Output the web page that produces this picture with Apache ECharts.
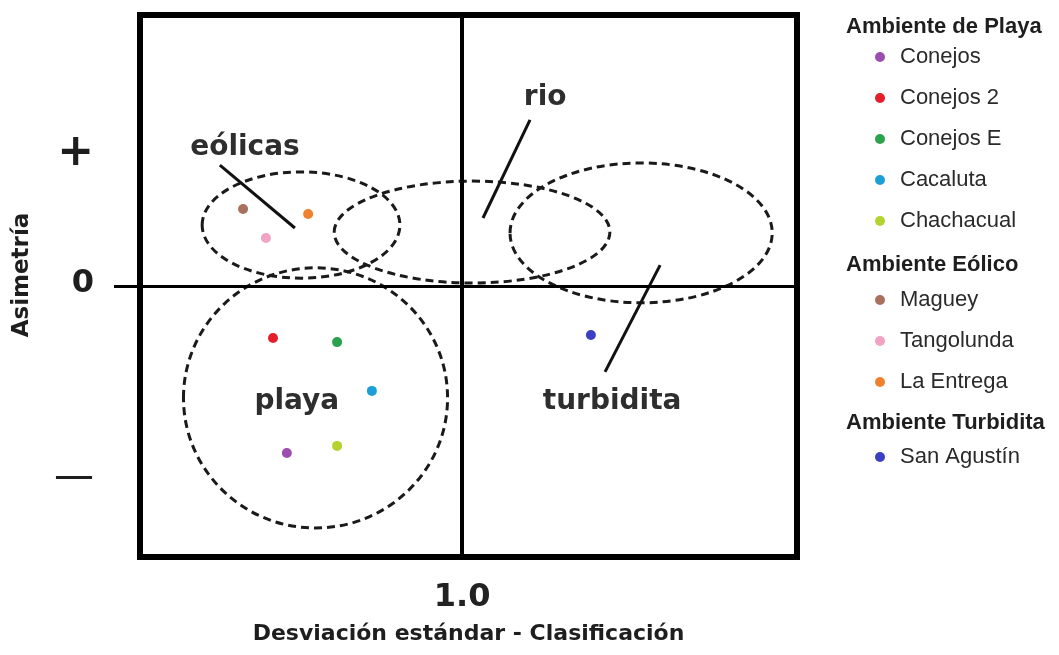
<!DOCTYPE html>
<html>
<head>
<meta charset="utf-8">
<title>Asimetría vs Desviación estándar</title>
<script src="https://cdn.jsdelivr.net/npm/echarts@6.0.0/dist/echarts.min.js"></script>
<style>
    html, body { margin: 0; padding: 0; background: #fff; }
    #chart { width: 1059px; height: 655px; }
</style>
</head>
<body>
<div id="chart"></div>
<script>
// Samples (one point each)
const sampleNames = ['Conejos', 'Conejos 2', 'Conejos E', 'Cacaluta', 'Chachacual', 'Maguey', 'Tangolunda', 'La Entrega', 'San Agustín'];
const sampleColors = ['#9c4db0', '#e41f2b', '#2ba24c', '#1b9fd6', '#b3d42f', '#a8705e', '#f2a3c4', '#f07f2e', '#3b3fc2'];
const sampleX = [0.456, 0.413, 0.612, 0.720, 0.612, 0.320, 0.391, 0.522, 1.400];
const sampleY = [-0.616, -0.192, -0.207, -0.387, -0.590, 0.284, 0.177, 0.266, -0.181];

// Legend groups
const groupTitles = ['Ambiente de Playa', 'Ambiente Eólico', 'Ambiente Turbidita'];
const groupMembers = [
    ['Conejos', 'Conejos 2', 'Conejos E', 'Cacaluta', 'Chachacual'],
    ['Maguey', 'Tangolunda', 'La Entrega'],
    ['San Agustín']
];

// Environment zones (dashed ellipses, data units)
const zoneNames = ['eólicas', 'rio', 'turbidita', 'playa'];
const zoneCenterX = [0.500, 1.031, 1.556, 0.545];
const zoneCenterY = [0.225, 0.199, 0.196, -0.413];
const zoneRadiusX = [0.307, 0.428, 0.407, 0.410];
const zoneRadiusY = [0.196, 0.188, 0.258, 0.480];

// Zone labels and leader lines
const labelX = [0.326, 1.258, 1.466, 0.487];
const labelY = [0.509, 0.694, -0.428, -0.428];
const leaderFromX = [0.248, 1.211, 1.615];
const leaderFromY = [0.446, 0.613, 0.077];
const leaderToX = [0.481, 1.065, 1.444];
const leaderToY = [0.214, 0.251, -0.317];

// Axis ticks
const xTickValues = [1.0];
const yTickValues = [0.5, 0, -0.71];
const yTickLabels = ['+', '0', '—'];

document.addEventListener('DOMContentLoaded', function() {
    initializeChart();
});

function initializeChart() {
    const chart = echarts.init(document.getElementById('chart'));

    const scatterSeries = sampleNames.map((name, i) => ({
        name: name,
        type: 'scatter',
        symbol: 'circle',
        symbolSize: 10,
        z: 5,
        itemStyle: { color: sampleColors[i], opacity: 1 },
        data: [[sampleX[i], sampleY[i]]]
    }));

    // Quadrant lines through (1.0, 0)
    scatterSeries[0].markLine = {
        silent: true,
        symbol: 'none',
        label: { show: false },
        data: [
            { yAxis: 0, lineStyle: { color: '#000', width: 3, type: 'solid' } },
            { xAxis: 1, lineStyle: { color: '#000', width: 4, type: 'solid' } }
        ]
    };

    const zoneSeries = {
        type: 'custom',
        name: 'zonas',
        silent: true,
        z: 3,
        encode: { x: 0, y: 1 },
        data: zoneNames.map((n, i) => [zoneCenterX[i], zoneCenterY[i], zoneRadiusX[i], zoneRadiusY[i]]),
        renderItem: function(params, api) {
            const c = api.coord([api.value(0), api.value(1)]);
            const s = api.size([api.value(2), api.value(3)]);
            return {
                type: 'ellipse',
                shape: { cx: c[0], cy: c[1], rx: s[0], ry: s[1] },
                style: { fill: null, stroke: '#1a1a1a', lineWidth: 3, lineDash: [8, 5] }
            };
        }
    };

    const leaderSeries = {
        type: 'custom',
        name: 'guias',
        silent: true,
        z: 4,
        encode: { x: [0, 2], y: [1, 3] },
        data: leaderFromX.map((x, i) => [x, leaderFromY[i], leaderToX[i], leaderToY[i]]),
        renderItem: function(params, api) {
            const p1 = api.coord([api.value(0), api.value(1)]);
            const p2 = api.coord([api.value(2), api.value(3)]);
            return {
                type: 'line',
                shape: { x1: p1[0], y1: p1[1], x2: p2[0], y2: p2[1] },
                style: { stroke: '#111', lineWidth: 3 }
            };
        }
    };

    const labelSeries = {
        type: 'custom',
        name: 'etiquetas',
        silent: true,
        z: 6,
        encode: { x: 0, y: 1 },
        data: labelX.map((x, i) => [x, labelY[i]]),
        renderItem: function(params, api) {
            const c = api.coord([api.value(0), api.value(1)]);
            return {
                type: 'text',
                x: c[0],
                y: c[1],
                style: {
                    text: zoneNames[params.dataIndex],
                    fill: '#2e2e2e',
                    font: 'bold 28px "DejaVu Sans"',
                    align: 'center',
                    verticalAlign: 'middle'
                }
            };
        }
    };

    const groupTops = [16, 254, 412];
    const legendTops = [46, 289, 446];

    const option = {
        backgroundColor: '#fff',
        animation: false,
        title: groupTitles.map((t, i) => ({
            text: t,
            left: 846,
            top: groupTops[i],
            padding: 0,
            textStyle: {
                fontFamily: 'Liberation Sans',
                fontSize: 22,
                fontWeight: 'bold',
                color: '#1e1e1e'
            }
        })),
        legend: groupMembers.map((members, i) => ({
            data: members,
            orient: 'vertical',
            left: 875,
            top: legendTops[i],
            padding: 0,
            icon: 'circle',
            itemWidth: 30,
            itemHeight: 10,
            itemGap: 19,
            selectedMode: false,
            itemStyle: { opacity: 1 },
            textStyle: {
                fontFamily: 'Liberation Sans',
                fontSize: 22,
                color: '#2a2a2a'
            }
        })),
        grid: {
            left: 140,
            top: 15,
            width: 657,
            height: 542,
            containLabel: false,
            show: true,
            borderColor: '#000',
            borderWidth: 6,
            backgroundColor: 'transparent'
        },
        xAxis: {
            type: 'value',
            min: 0,
            max: 2.04,
            name: 'Desviación estándar - Clasificación',
            nameLocation: 'middle',
            nameGap: 66,
            nameMoveOverlap: false,
            nameTextStyle: {
                fontFamily: 'DejaVu Sans',
                fontSize: 22,
                fontWeight: 'bold',
                color: '#1e1e1e'
            },
            axisLine: { show: false },
            axisTick: { show: false },
            splitLine: { show: false },
            axisLabel: {
                customValues: xTickValues,
                formatter: v => v.toFixed(1),
                margin: 25,
                fontFamily: 'DejaVu Sans',
                fontSize: 32,
                fontWeight: 'bold',
                color: '#222'
            }
        },
        yAxis: {
            type: 'value',
            min: -1,
            max: 1,
            name: 'Asimetría',
            nameLocation: 'middle',
            nameGap: 106,
            nameMoveOverlap: false,
            nameTextStyle: {
                fontFamily: 'DejaVu Sans',
                fontSize: 23,
                fontWeight: 'bold',
                color: '#1e1e1e',
                padding: [0, 0, 0, 22]
            },
            axisLine: { show: false },
            splitLine: { show: false },
            axisTick: {
                show: true,
                customValues: [0],
                length: 26,
                lineStyle: { color: '#000', width: 3 }
            },
            axisLabel: {
                customValues: yTickValues,
                margin: 46,
                formatter: function(v) {
                    const idx = yTickValues.indexOf(v);
                    const key = ['p', 'z', 'm'][idx];
                    return '{' + key + '|' + yTickLabels[idx] + '}';
                },
                rich: {
                    p: { fontFamily: 'DejaVu Sans', fontSize: 44, fontWeight: 'bold', color: '#1e1e1e', padding: [6, 0, 0, 0] },
                    z: { fontFamily: 'DejaVu Sans', fontSize: 32, fontWeight: 'bold', color: '#1e1e1e', padding: [0, 0, 4, 0] },
                    m: { fontFamily: 'DejaVu Sans', fontSize: 40, color: '#1e1e1e' }
                }
            }
        },
        series: [zoneSeries, leaderSeries, labelSeries].concat(scatterSeries)
    };

    chart.setOption(option);

    window.addEventListener('resize', function() {
        chart.resize();
    });
}
</script>
</body>
</html>
